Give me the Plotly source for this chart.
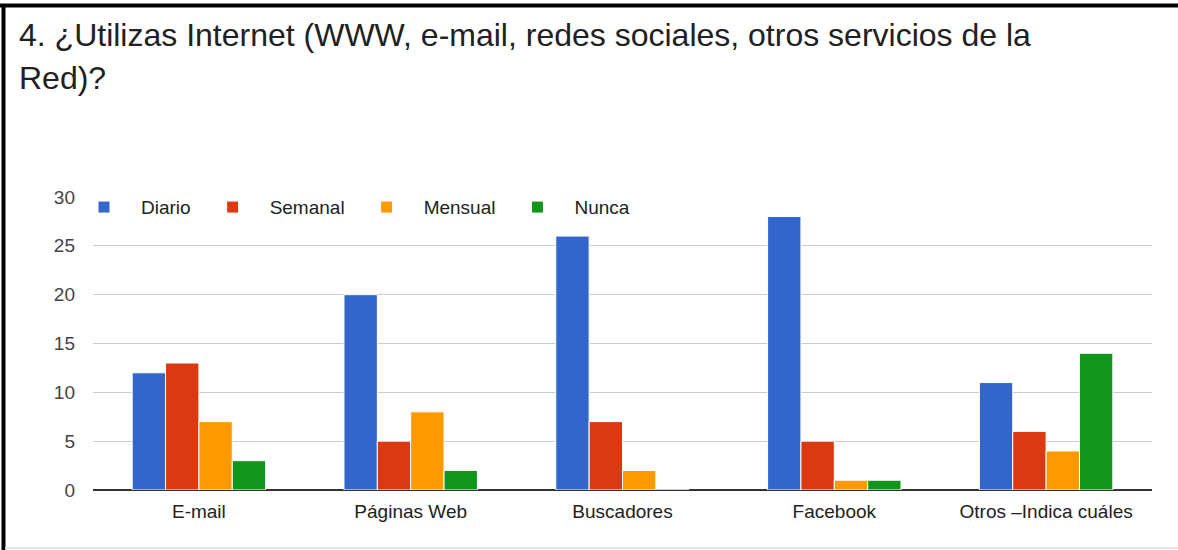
import plotly.graph_objects as go

categories = ["E-mail", "Páginas Web", "Buscadores", "Facebook", "Otros –Indica cuáles"]
diario = [12, 20, 26, 28, 11]
semanal = [13, 5, 7, 5, 6]
mensual = [7, 8, 2, 1, 4]
nunca = [3, 2, 0, 1, 14]

series = [
    ("Diario", diario, "#3366cc"),
    ("Semanal", semanal, "#dc3912"),
    ("Mensual", mensual, "#ff9900"),
    ("Nunca", nunca, "#109618"),
]

title_lines = [
    "4. ¿Utilizas Internet (WWW, e-mail, redes sociales, otros servicios de la",
    "Red)?",
]

W, H = 1178, 550
L, R, T, B = 93, 26, 197, 60
pw, ph = W - L - R, H - T - B


def px_x(x):
    return (x - L) / pw


def px_y(y):
    return (H - B - y) / ph


fig = go.Figure()
for name, vals, color in series:
    fig.add_trace(
        go.Bar(
            x=categories,
            y=vals,
            name=name,
            marker=dict(color=color, line=dict(color="white", width=1)),
        )
    )

# title as two lines, placed like the original
for text, yc in zip(title_lines, [35, 78]):
    fig.add_annotation(
        text=text,
        xref="paper", yref="paper",
        x=px_x(17), y=px_y(yc),
        xanchor="left", yanchor="middle",
        showarrow=False,
        font=dict(size=32, color="#212121"),
    )

fig.update_layout(
    width=W,
    height=H,
    margin=dict(l=L, r=R, t=T, b=B),
    paper_bgcolor="white",
    plot_bgcolor="white",
    barmode="group",
    bargap=0.37,
    bargroupgap=0.0,
    font=dict(family="Liberation Sans, Arial, sans-serif", color="#222"),
    legend=dict(
        orientation="h",
        x=px_x(67),
        xanchor="left",
        y=1.03,
        yanchor="top",
        bgcolor="rgba(0,0,0,0)",
        font=dict(size=19, color="#222"),
        itemwidth=64,
        traceorder="normal",
    ),
    showlegend=True,
    shapes=[
        dict(type="line", xref="paper", yref="paper",
             x0=px_x(3.5), x1=px_x(3.5), y0=px_y(4), y1=px_y(H), line=dict(color="black", width=4)),
        dict(type="line", xref="paper", yref="paper",
             x0=px_x(0), x1=px_x(W), y0=px_y(5.5), y1=px_y(5.5), line=dict(color="black", width=4)),
        dict(type="line", xref="paper", yref="paper",
             x0=px_x(5), x1=px_x(W), y0=px_y(548), y1=px_y(548), line=dict(color="#e6e6e6", width=2)),
    ],
)

fig.update_xaxes(
    showgrid=False,
    showline=False,
    tickfont=dict(size=19, color="#222"),
    ticks="",
    ticklabelstandoff=8,
)
fig.update_yaxes(
    range=[0, 30],
    dtick=5,
    showgrid=True,
    gridcolor="#cccccc",
    gridwidth=1,
    zeroline=True,
    zerolinecolor="#333333",
    zerolinewidth=2,
    tickfont=dict(size=19, color="#444"),
    ticklabelstandoff=17,
)

fig.write_html(
    "out.html",
    config={"displayModeBar": False},
    post_script="document.body.style.margin='0';",
)
